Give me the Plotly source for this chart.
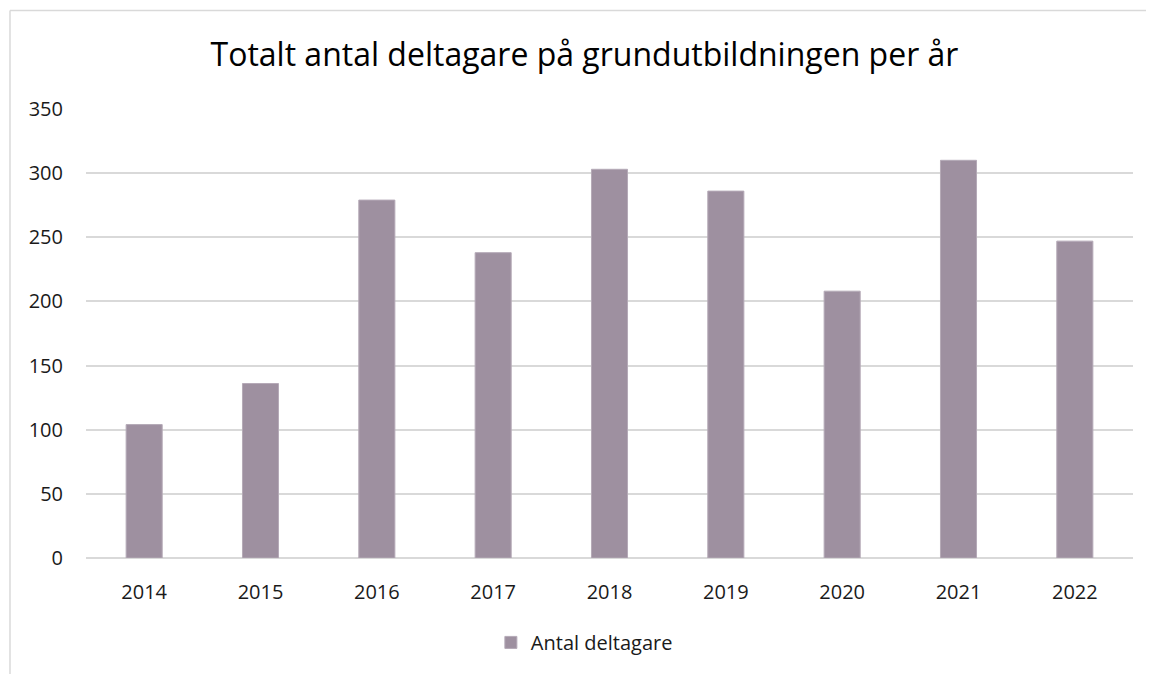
import plotly.graph_objects as go

years = ["2014", "2015", "2016", "2017", "2018", "2019", "2020", "2021", "2022"]
deltagare = [104, 136, 279, 238, 303, 286, 208, 310, 247]
series_name = "Antal deltagare"
title_text = "Totalt antal deltagare på grundutbildningen per år"

fig = go.Figure()
fig.add_trace(go.Bar(
    x=years, y=deltagare, name=series_name,
    marker=dict(color="#9E90A0", line=dict(color="#B5AAB7", width=1)),
    showlegend=True,
))

font_family = "Open Sans, Liberation Sans, sans-serif"
# page body has an 8px default margin; figure is sized/offset to compensate
fig.update_layout(
    width=1146, height=666,
    margin=dict(l=78, r=21, t=101, b=114),
    paper_bgcolor="white", plot_bgcolor="white",
    bargap=0.69,
    font=dict(family=font_family, size=20, color="#1a1a1a"),
    title=dict(text=title_text, x=0.503, xanchor="center", y=0.930, yanchor="middle",
               font=dict(size=32, color="#000000", family=font_family)),
    xaxis=dict(showgrid=False, showline=False, ticks="", tickfont=dict(size=20),
               ticklabelstandoff=20, automargin=False),
    yaxis=dict(range=[0, 350], dtick=50, showgrid=True, gridcolor="#D9D9D9", gridwidth=1.5,
               zeroline=True, zerolinecolor="#D9D9D9", zerolinewidth=1.5,
               showline=False, ticks="", tickfont=dict(size=20), ticklabelstandoff=22,
               automargin=False),
    legend=dict(orientation="h", x=0.476, xanchor="center", y=-0.188, yanchor="middle",
                font=dict(size=20), itemwidth=30),
    showlegend=True,
    shapes=[
        dict(type="line", xref="paper", yref="paper", x0=-0.0726, x1=-0.0726, y0=1.2195, y1=-0.5,
             line=dict(color="#D9D9D9", width=1.5)),
        dict(type="line", xref="paper", yref="paper", x0=-0.0726, x1=1.2, y0=1.2195, y1=1.2195,
             line=dict(color="#D9D9D9", width=1.5)),
    ],
)

fig.write_html("out.html")
